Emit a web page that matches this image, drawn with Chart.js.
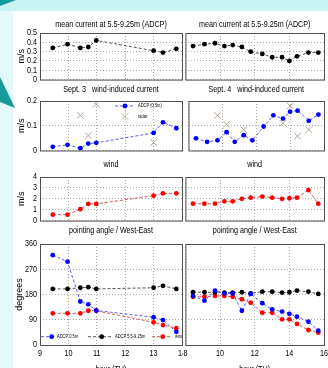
<!DOCTYPE html>
<html>
<head>
<meta charset="utf-8">
<title>ADCP currents, Sept. 3 and 4</title>
<script src="https://cdn.jsdelivr.net/npm/chart.js@4.4.1/dist/chart.umd.min.js"></script>
<style>
  html, body { margin: 0; padding: 0; }
  body { width: 328px; height: 368px; overflow: hidden; position: relative; background: #e4fafa; }
  .top-band { position: absolute; left: 0; top: 0; width: 328px; height: 11px; background: #c8f4f4; }
  .sheet { position: absolute; left: 13px; top: 11px; width: 315px; height: 357px; background: #fff; }
  .deco { position: absolute; left: 0; top: 0; }
  canvas { position: absolute; }
  canvas.right-col { background: #fff; }
</style>
</head>
<body>
<div class="top-band"></div>
<div class="sheet"></div>
<svg class="deco" width="20" height="120">
  <polygon points="0,0 16,0 0,6" fill="#159a9a"/>
  <polygon points="0,77 15,108 0,102" fill="#159a9a"/>
</svg>
<script>
// hours of the profiles (TU)
const hoursSep3 = [9.45, 9.97, 10.42, 10.7, 10.98, 13.0, 13.33, 13.8]
const hoursSep4 = [8.44, 9.1, 9.71, 10.25, 10.73, 11.26, 11.77, 12.44, 13.01, 13.58, 14.0, 14.44, 15.1, 15.67]
const radarHoursSep3 = [10.42, 10.7, 10.98, 13.0]
const radarHoursSep4 = [9.71, 10.25, 11.26, 13.58, 14.0, 14.44, 15.1]

// mean current 5.5-9.25m (m/s)
const meanSep3 = [0.34, 0.38, 0.34, 0.35, 0.42, 0.31, 0.29, 0.33]
const meanSep4 = [0.36, 0.38, 0.39, 0.36, 0.37, 0.35, 0.30, 0.275, 0.24, 0.24, 0.20, 0.25, 0.29, 0.29]

// wind-induced current (m/s)
const adcpTopSep3 = [0.015, 0.023, 0.009, 0.028, 0.031, 0.071, 0.114, 0.09]
const adcpTopSep4 = [0.049, 0.035, 0.041, 0.074, 0.035, 0.062, 0.041, 0.097, 0.142, 0.129, 0.157, 0.161, 0.12, 0.145]
const radarSep3 = [0.142, 0.06, 0.187, 0.032]
const radarSep4 = [0.142, 0.106, 0.084, 0.11, 0.18, 0.058, 0.084]

// wind (m/s)
const windSep3 = [0.54, 0.54, 1.05, 1.53, 1.53, 2.29, 2.5, 2.5]
const windSep4 = [1.55, 1.55, 1.55, 1.77, 1.77, 2.0, 2.1, 2.2, 2.1, 2.0, 2.05, 2.1, 2.8, 1.55]

// pointing angle / West-East (degrees)
const angleTopSep3 = [320, 297, 155, 145, 123, 99, 89, 47]
const angleMeanSep3 = [200, 200, 204, 206, 200, 204, 211, 200]
const angleWindSep3 = [113, 113, 113, 122, 122, 81, 71, 60]
const angleTopSep4 = [175, 158, 194, 184, 184, 122, 182, 149, 127, 119, 111, 101, 83, 51]
const angleMeanSep4 = [188, 188, 188, 187, 187, 188, 184, 190, 190, 187, 188, 194, 190, 182]
const angleWindSep4 = [172, 172, 175, 175, 172, 163, 151, 115, 115, 91.5, 91.5, 75, 53.5, 44]

const narrow = '"Liberation Sans Narrow", "Liberation Sans", Arial, sans-serif'
const regular = '"Liberation Sans", Arial, sans-serif'

Chart.defaults.font.family = narrow
Chart.defaults.font.size = 9
Chart.defaults.color = '#000'
Chart.defaults.animation = false

const BLUE = '#0000ff'
const RED = '#ff0000'
const BLACK = '#000000'
const TAN = '#b4a48c'
const GRID = '#a8a8a8'
const SQUEEZE = 0.8 // the figure text is squashed sideways

// plot boxes on the page
const ROWS = [
  { top: 33, bottom: 80, titleGap: 3, foot: 2 },
  { top: 101, bottom: 154, titleGap: 6, foot: 2 },
  { top: 177, bottom: 221, titleGap: 7, foot: 2 },
  { top: 244, bottom: 345, titleGap: 8, foot: 30 }
]
const COLS = [
  { left: 40, right: 182, canvasLeft: 0, tail: 8 },
  { left: 184, right: 324, canvasLeft: 183, tail: 8 }
]

function pts(xs, ys) {
  return xs.map((x, i) => ({ x, y: ys[i] }))
}

function series(label, xs, ys, color, lineColor) {
  return {
    label,
    data: pts(xs, ys),
    borderColor: lineColor,
    borderWidth: 1,
    borderDash: [3, 2],
    pointRadius: 2.4,
    pointBackgroundColor: color,
    pointBorderColor: color,
    pointBorderWidth: 0,
    pointHoverRadius: 0
  }
}

function radar(label, xs, ys) {
  return {
    label,
    data: pts(xs, ys),
    showLine: false,
    pointStyle: 'crossRot',
    pointRadius: 4.5,
    pointBorderColor: TAN,
    borderColor: TAN,
    pointBorderWidth: 1,
    pointHoverRadius: 0
  }
}

// horizontal text gets narrowed around its anchor, rotated text is left alone
const squeezePlugin = {
  id: 'squeeze',
  beforeDraw(chart) {
    const orig = CanvasRenderingContext2D.prototype.fillText
    chart.ctx.fillText = function (text, x, y, maxWidth) {
      const m = this.getTransform()
      if (m.b !== 0 || m.c !== 0) return orig.call(this, text, x, y, maxWidth)
      this.save()
      this.translate(x, y)
      this.scale(SQUEEZE, 1)
      orig.call(this, text, 0, 0)
      this.restore()
    }
  },
  afterDraw(chart) {
    delete chart.ctx.fillText
  }
}

const framePlugin = {
  id: 'frame',
  beforeDatasetsDraw(chart) {
    const { ctx, chartArea: a } = chart
    ctx.save()
    ctx.strokeStyle = '#505050'
    ctx.lineWidth = 1
    ctx.strokeRect(a.left + 0.5, a.top + 0.5, a.right - a.left, a.bottom - a.top)
    ctx.restore()
  }
}

// small matlab-like key drawn inside the axes
const keyPlugin = {
  id: 'key',
  afterDatasetsDraw(chart, args, opts) {
    if (!opts.items || !opts.items.length) return
    const { ctx, chartArea: a } = chart
    ctx.save()
    ctx.beginPath()
    ctx.rect(a.left, a.top, a.right - a.left, a.bottom - a.top)
    ctx.clip()
    ctx.font = `5px ${regular}`
    ctx.textBaseline = 'middle'
    opts.items.forEach(it => {
      const ds = chart.data.datasets[it.dataset]
      const y = a.top + it.y
      if (ds.showLine !== false) {
        ctx.strokeStyle = ds.borderColor
        ctx.lineWidth = 1
        ctx.setLineDash([3, 2])
        ctx.beginPath()
        ctx.moveTo(a.left + it.from, y)
        ctx.lineTo(a.left + it.to, y)
        ctx.stroke()
        ctx.setLineDash([])
      }
      ctx.fillStyle = ds.pointBackgroundColor || ds.pointBorderColor
      ctx.strokeStyle = ds.pointBorderColor
      Chart.helpers.drawPoint(ctx, {
        pointStyle: ds.pointStyle || 'circle',
        radius: ds.pointRadius,
        borderWidth: ds.pointBorderWidth,
        rotation: 0
      }, a.left + it.marker, y)
      ctx.fillStyle = '#000'
      ctx.fillText(it.text, a.left + it.textX, y)
    })
    ctx.restore()
  }
}

function panel(c, r, cfg) {
  const col = COLS[c]
  const row = ROWS[r]
  const titleH = 10 + row.titleGap
  const axisW = col.left - col.canvasLeft
  const width = axisW + (col.right - col.left) + col.tail
  const height = titleH + (row.bottom - row.top) + row.foot
  const last = r === ROWS.length - 1

  const canvas = document.createElement('canvas')
  canvas.width = width
  canvas.height = height
  canvas.style.left = col.canvasLeft + 'px'
  canvas.style.top = (row.top - titleH) + 'px'
  canvas.style.width = width + 'px'
  canvas.style.height = height + 'px'
  if (c === 1) canvas.className = 'right-col'
  document.body.appendChild(canvas)

  return new Chart(canvas, {
    type: 'scatter',
    data: { datasets: cfg.datasets },
    options: {
      responsive: false,
      devicePixelRatio: 1,
      showLine: true,
      layout: { padding: { left: 0, top: 0, bottom: 0, right: col.tail } },
      events: [],
      scales: {
        x: {
          type: 'linear',
          min: cfg.xMin,
          max: cfg.xMax,
          ticks: { stepSize: cfg.xStep, display: last, padding: 3, autoSkip: false, maxRotation: 0 },
          grid: { color: GRID, drawTicks: false },
          border: { display: false, dash: [1, 2] },
          title: {
            display: last,
            text: 'hour (TU)',
            font: { size: 9, lineHeight: '10px' },
            padding: { top: 0, bottom: 0 }
          },
          afterFit(s) {
            s.height = row.foot
            s.paddingLeft = 0
            s.paddingRight = 0
          }
        },
        y: {
          min: cfg.yMin,
          max: cfg.yMax,
          ticks: { stepSize: cfg.yStep, display: c === 0, padding: 3, autoSkip: false },
          grid: { color: GRID, drawTicks: false },
          border: { display: false, dash: [1, 2] },
          title: {
            display: c === 0,
            text: cfg.yTitle,
            font: { family: regular, size: 9, lineHeight: '10px' },
            padding: { top: cfg.yTitlePad, bottom: 0 }
          },
          afterFit(s) {
            s.width = axisW
            s.paddingTop = 0
            s.paddingBottom = 0
          }
        }
      },
      plugins: {
        legend: { display: false },
        tooltip: { enabled: false },
        title: {
          display: true,
          text: cfg.title,
          fullSize: false,
          color: '#000',
          font: { size: 9, weight: 'normal', lineHeight: '10px' },
          padding: { top: 0, bottom: row.titleGap }
        },
        key: { items: cfg.keys || [] }
      }
    },
    plugins: [squeezePlugin, framePlugin, keyPlugin]
  })
}

const sep3 = { xMin: 9, xMax: 14, xStep: 1 }
const sep4 = { xMin: 8, xMax: 16, xStep: 2 }

// mean current
const meanOpts = { title: 'mean current at 5.5-9.25m (ADCP)', yMin: 0, yMax: 0.5, yStep: 0.1, yTitle: 'm/s', yTitlePad: 17 }
panel(0, 0, { ...sep3, ...meanOpts, datasets: [series('ADCP 5.5-9.25m', hoursSep3, meanSep3, BLACK, '#555555')] })
panel(1, 0, { ...sep4, ...meanOpts, datasets: [series('ADCP 5.5-9.25m', hoursSep4, meanSep4, BLACK, '#555555')] })

// wind-induced current
const wicOpts = { yMin: 0, yMax: 0.2, yStep: 0.1, yTitle: 'm/s', yTitlePad: 17 }
panel(0, 1, {
  ...sep3, ...wicOpts,
  title: 'Sept. 3   wind-induced current',
  datasets: [
    series('ADCP (0.5m)', hoursSep3, adcpTopSep3, BLUE, '#5a5aff'),
    radar('radar', radarHoursSep3, radarSep3)
  ],
  keys: [
    { dataset: 0, from: 75, to: 95, marker: 85, textX: 98, y: 5, text: 'ADCP (0.5m)' },
    { dataset: 1, marker: 85, textX: 98, y: 15.5, text: 'radar' }
  ]
})
panel(1, 1, {
  ...sep4, ...wicOpts,
  title: 'Sept. 4   wind-induced current',
  datasets: [
    series('ADCP (0.5m)', hoursSep4, adcpTopSep4, BLUE, '#5a5aff'),
    radar('radar', radarHoursSep4, radarSep4)
  ]
})

// wind
const windOpts = { title: 'wind', yMin: 0, yMax: 4, yStep: 1, yTitle: 'm/s', yTitlePad: 17 }
panel(0, 2, { ...sep3, ...windOpts, datasets: [series('wind', hoursSep3, windSep3, RED, '#e05050')] })
panel(1, 2, { ...sep4, ...windOpts, datasets: [series('wind', hoursSep4, windSep4, RED, '#e05050')] })

// pointing angle
const angleOpts = { title: 'pointing angle / West-East', yMin: 0, yMax: 360, yStep: 90, yTitle: 'degrees', yTitlePad: 15 }
panel(0, 3, {
  ...sep3, ...angleOpts,
  datasets: [
    series('ADCP 0.5m', hoursSep3, angleTopSep3, BLUE, '#5a5aff'),
    series('ADCP 5.5-9.25m', hoursSep3, angleMeanSep3, BLACK, '#555555'),
    series('wind', hoursSep3, angleWindSep3, RED, '#e05050')
  ],
  keys: [
    { dataset: 0, from: 1, to: 16, marker: 11.7, textX: 17, y: 92.7, text: 'ADCP 0.5m' },
    { dataset: 1, from: 48, to: 73, marker: 61.7, textX: 75, y: 92.7, text: 'ADCP 5.5-9.25m' },
    { dataset: 2, from: 112, to: 132, marker: 122.7, textX: 135, y: 92.7, text: 'wind' }
  ]
})
panel(1, 3, {
  ...sep4, ...angleOpts,
  datasets: [
    series('ADCP 0.5m', hoursSep4, angleTopSep4, BLUE, '#5a5aff'),
    series('ADCP 5.5-9.25m', hoursSep4, angleMeanSep4, BLACK, '#555555'),
    series('wind', hoursSep4, angleWindSep4, RED, '#e05050')
  ]
})
</script>
</body>
</html>
